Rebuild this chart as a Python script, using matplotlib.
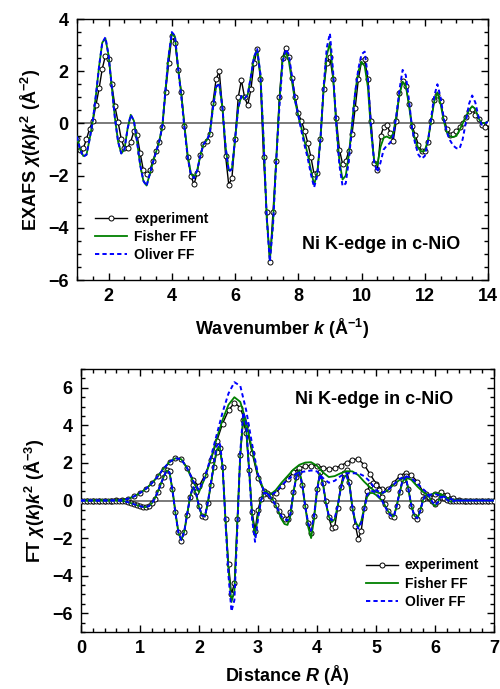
import numpy as np
import matplotlib
matplotlib.use("Agg")
import matplotlib.pyplot as plt
from matplotlib.ticker import MultipleLocator

plt.rcParams['font.family'] = 'Liberation Sans'
plt.rcParams['font.weight'] = 'bold'
plt.rcParams['axes.labelweight'] = 'bold'
plt.rcParams['mathtext.fontset'] = 'custom'
plt.rcParams['mathtext.rm'] = 'Liberation Sans:bold'
plt.rcParams['mathtext.it'] = 'Liberation Sans:italic:bold'
plt.rcParams['mathtext.bf'] = 'Liberation Sans:bold'

# ---- EXAFS chi(k)k^2, every 0.1 A^-1 from k=1 to k=14
k = np.round(np.arange(1.0, 14.01, 0.1), 1)

exp_chi = [
    -0.6, -1.0, -0.95, -0.6, -0.2, 0.1, 0.7, 1.35, 2.1, 2.6,
    2.45, 1.5, 0.65, 0.05, -0.6, -0.95, -0.95, -0.7, -0.3, -0.45,
    -1.15, -1.8, -1.95, -1.8, -1.45, -1.05, -0.7, -0.15, 1.2, 2.3,
    3.35, 3.1, 2.05, 1.2, -0.1, -1.3, -2.0, -2.34, -1.9, -1.2,
    -0.8, -0.68, -0.4, 0.8, 1.7, 2.0, 0.6, -1.25, -2.35, -2.1,
    -0.6, 1.0, 1.66, 1.0, 0.7, 1.3, 2.3, 2.85, 1.7, -1.3,
    -3.4, -5.3, -3.4, -1.45, 1.0, 2.5, 2.9, 2.55, 1.75, 1.02,
    0.38, 0.08, -0.28, -0.75, -1.3, -1.95, -1.9, -0.6, 1.3, 2.3,
    2.55, 1.7, 0.19, -1.0, -1.55, -1.45, -1.05, -0.4, 0.6, 1.7,
    2.38, 2.45, 1.7, 0.1, -1.5, -1.8, -0.5, -0.13, -0.05, -0.35,
    -0.68, 0.1, 1.15, 1.63, 1.45, 0.75, -0.1, -0.45, -0.83, -1.07,
    -1.07, -0.7, 0.1, 0.9, 1.09, 0.85, 0.2, -0.2, -0.45, -0.4,
    -0.3, -0.15, 0.02, 0.25, 0.47, 0.57, 0.32, 0.15, -0.05, -0.12,
    0.0,
]

fisher_chi = [
    -0.5, -1.0, -1.25, -1.2, -0.6, 0.1, 1.1, 2.2, 3.1, 3.25,
    2.6, 1.4, 0.2, -0.7, -1.15, -1.0, -0.2, 0.33, 0.1, -0.7,
    -1.6, -2.2, -2.38, -1.95, -1.5, -1.1, -0.7, -0.1, 1.3, 2.6,
    3.45, 3.3, 2.1, 1.1, -0.1, -1.2, -1.9, -2.1, -1.8, -1.25,
    -0.8, -0.65, -0.4, 0.6, 1.4, 1.5, 0.6, -0.9, -1.8, -1.75,
    -0.6, 0.6, 1.05, 0.95, 1.1, 1.8, 2.55, 2.8, 1.9, -0.6,
    -3.6, -5.25, -3.8, -1.4, 0.8, 2.4, 2.75, 2.4, 1.6, 0.83,
    0.3, -0.19, -0.7, -1.2, -1.8, -2.35, -1.9, -0.6, 1.3, 2.6,
    3.1, 1.8, -0.05, -1.45, -2.15, -2.0, -1.2, 0.0, 1.2, 2.0,
    2.36, 2.2, 1.4, -0.3, -1.45, -1.6, -0.9, -0.55, -0.5, -0.57,
    -0.4, 0.3, 1.1, 1.6, 1.45, 0.7, -0.2, -0.65, -0.96, -1.08,
    -1.05, -0.65, 0.1, 0.85, 1.19, 0.75, 0.1, -0.35, -0.5, -0.52,
    -0.48, -0.25, 0.0, 0.25, 0.5, 0.66, 0.55, 0.2, 0.0, 0.02,
    0.06,
]

oliver_chi = [
    -0.5, -1.0, -1.28, -1.2, -0.6, 0.1, 1.1, 2.2, 3.1, 3.3,
    2.6, 1.4, 0.2, -0.7, -1.15, -1.0, -0.2, 0.33, 0.1, -0.7,
    -1.6, -2.2, -2.4, -1.95, -1.5, -1.1, -0.7, -0.1, 1.3, 2.6,
    3.5, 3.35, 2.1, 1.0, -0.2, -1.3, -1.95, -2.1, -1.8, -1.25,
    -0.8, -0.65, -0.4, 0.6, 1.4, 1.55, 0.6, -0.9, -1.85, -1.75,
    -0.6, 0.6, 1.05, 0.95, 1.1, 1.8, 2.55, 2.85, 1.9, -0.6,
    -3.6, -5.3, -3.9, -1.5, 0.6, 2.3, 2.85, 2.65, 1.8, 0.9,
    0.3, -0.3, -0.85, -1.35, -1.95, -2.45, -2.0, -0.6, 1.4, 2.9,
    3.45, 2.0, 0.0, -1.6, -2.4, -2.3, -1.4, -0.1, 1.2, 2.1,
    2.65, 2.75, 1.8, -0.2, -1.5, -1.87, -1.5, -1.0, -0.85, -0.75,
    -0.5, 0.3, 1.3, 2.05, 1.85, 0.9, -0.2, -0.8, -1.2, -1.35,
    -1.25, -0.7, 0.2, 1.05, 1.5, 1.0, 0.2, -0.35, -0.65, -0.85,
    -0.95, -0.97, -0.6, 0.05, 0.75, 1.07, 0.8, 0.25, -0.05, 0.0,
    0.05,
]

# ---- Fourier transforms: magnitude every 0.1 A, imaginary part every 0.05 A
r_mag = np.round(np.arange(0.0, 7.01, 0.1), 2)
r_im = np.round(np.arange(0.0, 7.001, 0.05), 2)

exp_mag = [
    0, 0, 0, 0, 0, 0, 0.01, 0.03, 0.1, 0.22,
    0.4, 0.62, 0.92, 1.28, 1.7, 2.05, 2.25, 2.2, 1.75, 1.1,
    0.75, 1.35, 2.15, 3.15, 4.1, 4.8, 5.2, 4.95, 4.0, 2.55,
    1.2, 0.5, 0.3, 0.4, 0.75, 1.15, 1.5, 1.72, 1.82, 1.86,
    1.86, 1.75, 1.68, 1.72, 1.85, 2.02, 2.18, 2.2, 1.9, 1.4,
    0.9, 0.6, 0.6, 0.95, 1.3, 1.48, 1.35, 1.0, 0.45, 0.12,
    0.33, 0.44, 0.3, 0.12, 0.03, 0, 0, 0, 0, 0,
    0,
]

fisher_mag = [
    0, 0, 0, 0, 0, 0, 0.01, 0.03, 0.1, 0.22,
    0.4, 0.62, 0.92, 1.28, 1.7, 2.05, 2.25, 2.2, 1.7, 1.0,
    0.45, 1.2, 2.2, 3.3, 4.3, 5.1, 5.5, 5.25, 4.2, 2.7,
    1.35, 0.55, 0.3, 0.55, 0.95, 1.3, 1.65, 1.9, 2.02, 2.04,
    1.85, 1.5, 1.25, 1.3, 1.45, 1.56, 1.55, 1.35, 1.0, 0.7,
    0.45, 0.36, 0.55, 0.85, 1.1, 1.24, 1.1, 0.75, 0.45, 0.28,
    0.4, 0.35, 0.15, 0.05, 0, 0, 0, 0, 0, 0,
    0,
]

oliver_mag = [
    0, 0, 0, 0, 0, 0, 0.01, 0.03, 0.1, 0.22,
    0.4, 0.62, 0.92, 1.28, 1.7, 2.05, 2.25, 2.2, 1.72, 1.05,
    0.55, 1.25, 2.3, 3.5, 4.7, 5.7, 6.3, 6.1, 4.8, 3.0,
    1.4, 0.5, 0.25, 0.45, 0.8, 1.1, 1.35, 1.5, 1.55, 1.6,
    1.55, 1.2, 0.95, 1.05, 1.3, 1.45, 1.45, 1.45, 1.3, 1.0,
    0.55, 0.4, 0.55, 0.85, 1.15, 1.3, 1.2, 0.9, 0.6, 0.3,
    0.35, 0.25, 0.15, 0.05, 0, 0, 0, 0, 0, 0,
    0,
]

exp_im = [
    0, 0, 0, 0, 0, 0, 0, 0, 0, 0,
    0, 0, 0, -0.01, -0.02, -0.05, -0.09, -0.14, -0.2, -0.25,
    -0.3, -0.34, -0.35, -0.3, -0.15, 0.1, 0.45, 0.85, 1.25, 1.6,
    1.55, 0.6, -0.6, -1.65, -2.13, -1.7, -0.75, 0.2, 0.8, 0.45,
    -0.3, -0.8, -0.9, -0.15, 0.8, 1.8, 2.6, 2.8, 1.8, -1.0,
    -3.4, -5.0, -4.4, -1.0, 2.4, 4.3, 3.6, 1.6, -0.6, -1.6,
    -0.5, 0.1, 0.35, 0.38, 0.25, 0.05, -0.25, -0.55, -0.85, -1.0,
    -1.0, -0.6, 0.44, 1.25, 1.54, 0.8, -0.27, -1.2, -1.75, -0.8,
    0.6, 1.5, 0.95, -0.05, -0.9, -1.45, -1.4, -0.4, 0.7, 1.45,
    1.6, 1.0, -0.4, -1.33, -2.05, -1.6, -0.4, 0.5, 0.85, 0.95,
    0.85, 0.55, 0.2, -0.2, -0.55, -0.8, -0.9, -0.3, 0.44, 1.1,
    1.33, 0.6, -0.3, -0.8, -0.98, -0.5, 0.09, 0.35, 0.2, -0.05,
    -0.18, -0.05, 0.18, 0.15, 0.05, -0.05, -0.05, 0, 0, 0,
    0, 0, 0, 0, 0, 0, 0, 0, 0, 0,
    0,
]

fisher_im = [
    0, 0, 0, 0, 0, 0, 0, 0, 0, 0,
    0, 0, 0, -0.01, -0.02, -0.05, -0.09, -0.14, -0.2, -0.25,
    -0.3, -0.34, -0.35, -0.3, -0.15, 0.1, 0.45, 0.85, 1.25, 1.6,
    1.5, 0.55, -0.65, -1.7, -2.1, -1.65, -0.7, 0.2, 0.7, 0.35,
    -0.35, -0.8, -0.85, -0.1, 0.85, 1.85, 2.7, 2.9, 1.8, -1.1,
    -3.7, -5.4, -4.8, -1.2, 2.5, 4.5, 3.8, 1.6, -0.8, -1.9,
    -0.8, 0.0, 0.4, 0.45, 0.25, 0.05, -0.25, -0.6, -1.0, -1.25,
    -1.3, -0.8, 0.4, 1.3, 1.6, 0.9, -0.3, -1.4, -2.0, -1.0,
    0.5, 1.45, 0.9, -0.1, -0.85, -1.15, -1.0, -0.3, 0.6, 1.2,
    1.35, 0.8, -0.4, -1.1, -1.42, -1.1, -0.4, 0.2, 0.4, 0.4,
    0.3, 0.15, 0.0, -0.25, -0.55, -0.75, -0.85, -0.3, 0.4, 1.0,
    1.2, 0.6, -0.3, -0.8, -0.95, -0.55, 0.05, 0.3, 0.2, -0.1,
    -0.3, -0.1, 0.3, 0.25, 0.05, -0.05, -0.05, 0, 0, 0,
    0, 0, 0, 0, 0, 0, 0, 0, 0, 0,
    0,
]

oliver_im = [
    0, 0, 0, 0, 0, 0, 0, 0, 0, 0,
    0, 0, 0, -0.01, -0.02, -0.05, -0.09, -0.14, -0.2, -0.25,
    -0.3, -0.34, -0.35, -0.3, -0.15, 0.1, 0.45, 0.85, 1.25, 1.6,
    1.5, 0.55, -0.65, -1.7, -2.1, -1.65, -0.7, 0.2, 0.75, 0.4,
    -0.3, -0.8, -0.85, -0.1, 0.9, 1.95, 2.9, 3.1, 1.9, -1.2,
    -4.0, -5.9, -5.3, -1.5, 2.6, 4.7, 4.1, 1.6, -1.0, -2.2,
    -1.0, 0.0, 0.4, 0.4, 0.2, 0.0, -0.25, -0.55, -0.85, -1.0,
    -1.05, -0.7, 0.4, 1.25, 1.5, 0.85, -0.3, -1.2, -1.6, -0.8,
    0.5, 1.4, 0.85, -0.1, -0.8, -1.05, -0.95, -0.3, 0.6, 1.2,
    1.35, 0.85, -0.35, -1.15, -1.5, -1.2, -0.5, 0.3, 0.5, 0.5,
    0.4, 0.2, 0.0, -0.3, -0.6, -0.8, -0.85, -0.3, 0.45, 1.05,
    1.25, 0.6, -0.3, -0.8, -0.95, -0.55, 0.05, 0.35, 0.25, -0.05,
    -0.25, -0.1, 0.2, 0.15, 0.05, -0.05, -0.05, 0, 0, 0,
    0, 0, 0, 0, 0, 0, 0, 0, 0, 0,
    0,
]

labels = ['experiment', 'Fisher FF', 'Oliver FF']

EXP_STYLE = dict(color='black', lw=1.0, marker='o', ms=3.6, mfc='white',
                 mec='black', mew=0.7)
FISHER_STYLE = dict(color='#008000', lw=1.3)
OLIVER_STYLE = dict(color='#0000ff', lw=1.4, ls=(0, (2.2, 1.6)))


def style_axes(ax, xmaj, xmin, ymaj, ymin):
    ax.xaxis.set_major_locator(MultipleLocator(xmaj))
    ax.xaxis.set_minor_locator(MultipleLocator(xmin))
    ax.yaxis.set_major_locator(MultipleLocator(ymaj))
    ax.yaxis.set_minor_locator(MultipleLocator(ymin))
    ax.tick_params(which='both', direction='in', top=True, right=True,
                   width=1.0, labelsize=13)
    ax.tick_params(which='major', length=5, pad=6)
    ax.tick_params(which='minor', length=3)
    for s in ax.spines.values():
        s.set_linewidth(1.0)
    ax.axhline(0, color='#707070', lw=1.3, zorder=1)


fig = plt.figure(figsize=(5.0, 6.89), dpi=100)

# top panel
ax1 = fig.add_axes([0.154, 0.5936, 0.822, 0.3788])
ax1.plot(k, exp_chi, label=labels[0], zorder=3, **EXP_STYLE)
ax1.plot(k, fisher_chi, label=labels[1], zorder=4, **FISHER_STYLE)
ax1.plot(k, oliver_chi, label=labels[2], zorder=5, **OLIVER_STYLE)
ax1.set_xlim(1, 14)
ax1.set_ylim(-6, 4)
style_axes(ax1, 2, 0.5, 2, 0.5)
ax1.set_xlabel(r'Wavenumber $k$ ($\mathrm{\AA}^{-1}$)', fontsize=13, labelpad=8)
ax1.set_ylabel(r'EXAFS $\chi(k)k^{2}$ ($\mathrm{\AA}^{-2}$)', fontsize=13, labelpad=4)
ax1.text(0.74, 0.135, 'Ni K-edge in c-NiO', transform=ax1.transAxes,
         ha='center', va='center', fontsize=13, fontweight='bold')
ax1.legend(loc='upper left', bbox_to_anchor=(0.045, 0.26), frameon=False,
           fontsize=10, handlelength=2.3, handletextpad=0.5,
           labelspacing=0.28, borderaxespad=0, borderpad=0)

# bottom panel
ax2 = fig.add_axes([0.162, 0.0827, 0.826, 0.3817])
ax2.plot(r_mag, exp_mag, zorder=3, **EXP_STYLE)
ax2.plot(r_im, exp_im, label=labels[0], zorder=3, **EXP_STYLE)
ax2.plot(r_mag, fisher_mag, zorder=4, **FISHER_STYLE)
ax2.plot(r_im, fisher_im, label=labels[1], zorder=4, **FISHER_STYLE)
ax2.plot(r_mag, oliver_mag, zorder=5, **OLIVER_STYLE)
ax2.plot(r_im, oliver_im, label=labels[2], zorder=5, **OLIVER_STYLE)
ax2.set_xlim(0, 7)
ax2.set_ylim(-7, 7)
style_axes(ax2, 1, 0.2, 2, 0.5)
ax2.set_xlabel(r'Distance $R$ ($\mathrm{\AA}$)', fontsize=13, labelpad=4)
ax2.set_ylabel(r'FT $\chi(k)k^{2}$ ($\mathrm{\AA}^{-3}$)', fontsize=13, labelpad=4)
ax2.text(0.71, 0.885, 'Ni K-edge in c-NiO', transform=ax2.transAxes,
         ha='center', va='center', fontsize=13, fontweight='bold')
ax2.legend(loc='upper left', bbox_to_anchor=(0.69, 0.28), frameon=False,
           fontsize=10, handlelength=2.3, handletextpad=0.5,
           labelspacing=0.3, borderaxespad=0, borderpad=0)

fig.savefig('out.png', dpi=100)
